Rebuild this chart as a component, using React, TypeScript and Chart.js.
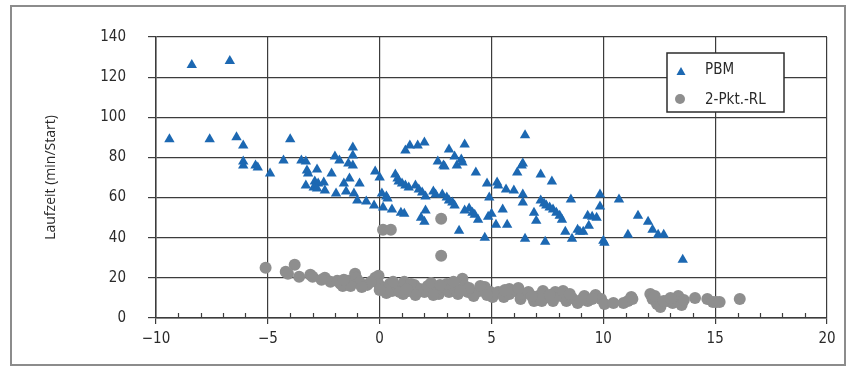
import { useEffect, useRef } from "react";
import { Chart, registerables } from "chart.js";

Chart.register(...registerables);

// ---- data ----
const seriesNames = ["PBM", "2-Pkt.-RL"];
const yAxisTitle = "Laufzeit (min/Start)";
const xRange = [-10, 20];
const yRange = [0, 140];

const pbmX = [
  -9.4, -8.4, -6.7, -7.6, -6.4, -6.1, -6.1, -6.1, -5.55, -5.45, -4.9, -4.0, -4.3, -3.5, -3.3, -3.25, -3.2, -3.3,
  -2.8, -2.9, -2.75, -2.95, -2.8, -2.45, -2.5, -2.15, -2.0, -1.8, -1.95, -1.6, -1.5, -1.4, -1.2, -1.2, -1.2, -1.35,
  -0.9, -1.15, -1.0, -0.6, -0.25, -0.2, 0.0, 0.1, 0.15, 0.3, 0.35, 0.55, 0.7, 0.8, 0.85, 1.0, 1.15, 1.3, 0.95, 1.1,
  1.15, 1.35, 1.7, 2.0, 1.6, 1.75, 1.9, 2.05, 1.85, 2.0, 2.05, 2.4, 2.5, 2.6, 2.85, 2.9, 2.8, 3.0, 3.1, 3.25, 3.35,
  3.1, 3.35, 3.45, 3.65, 3.7, 3.8, 3.55, 3.8, 4.0, 4.15, 4.3, 4.25, 4.4, 4.7, 4.8, 4.9, 4.85, 5.0, 5.25, 5.3, 5.2,
  5.5, 5.65, 6.0, 5.7, 6.15, 6.35, 6.4, 6.5, 6.4, 6.4, 6.5, 6.9, 7.0, 7.2, 7.2, 7.35, 7.45, 7.6, 7.75, 7.9, 8.05,
  8.15, 7.7, 7.4, 8.3, 8.55, 8.6, 8.85, 8.95, 9.1, 9.35, 9.3, 9.5, 9.7, 9.85, 9.85, 10.0, 10.05, 10.7, 11.1, 11.55,
  12.0, 12.2, 12.45, 12.7, 13.55,
];
const pbmY = [
  89, 126, 128, 89, 90, 86, 78, 76, 76, 75, 72, 89, 78.5, 78.5, 78, 73.5, 72, 66,
  74, 68, 67, 65, 64.5, 63.5, 67.5, 72, 80.5, 78.5, 62, 67, 63, 77, 76, 85, 81, 69.5,
  67, 62, 58.5, 58, 56, 73, 70, 62, 55, 60.5, 59.5, 54, 71.5, 69.5, 68, 67, 66, 65, 52.5, 52,
  83.5, 86, 86, 87.5, 66, 64, 62.5, 60.5, 50, 48, 53.5, 63, 61.5, 78, 76, 75.5, 61.5, 60, 58.5, 57.5, 56,
  84, 80.5, 76, 79, 77.5, 86.5, 43.5, 53.5, 54.5, 52.5, 72.5, 51.5, 49, 40, 67, 60, 50.5, 52, 67.5, 66, 46.5,
  54, 64, 63.5, 46.5, 72.5, 76, 77, 91, 61.5, 57.5, 39.5, 52.5, 48.5, 71.5, 58.5, 57, 56, 55, 54, 52.5, 51,
  49, 68, 38, 43, 59, 39.5, 44, 43, 43, 46, 51, 50.5, 50, 61.5, 55.5, 38.5, 37.5, 59, 41.5, 51,
  48, 44, 41.5, 41.5, 29,
];

const rlX = [
  -5.1, -4.2, -3.8, -4.1, -3.6, -3.1, -3.0, -2.45, -2.2, -1.75, -1.65, -1.4, -1.1, -1.05, -0.9, -0.55, -0.2, -0.05,
  -0.05, 0.2, 0.45, 0.3, 0.55, 0.8, 1.05, 1.1, 1.05, 1.3, 1.55, 1.8, 2.0, 2.15, 2.5, 2.65, 2.85, 3.1, 3.35, 3.5,
  3.7, 3.8, 3.95, 4.2, 4.45, 4.7, 4.95, 5.05, 5.3, 5.55, 5.8, 6.05, 6.3, 6.4, 6.65, 6.9, 7.1, 7.25, 7.5, 7.75, 7.85,
  8.1, 8.35, 8.85, 9.15, 9.3, 9.65, 9.9, 10.05, 10.45, 11.1, 11.25, 12.1, 12.2, 12.4, 12.55, 12.85, 13.1, 13.35,
  13.5, 14.1, 14.65, 15.05, 16.1, 0.15, 0.5, 2.75, 2.75,
  0.6, 1.4, 2.3, 3.0, 3.3, 4.0, 4.5, 5.8, 6.2, 7.3, 8.2, 8.6, 9.0, 2.4, 1.6, 0.9, -0.4, -1.3, -2.6, -1.9, 10.9,
  11.3, 12.3, 12.7, 13.0, 13.6, 14.9, 15.2,
  0.0, 1.2, 2.7, 3.6, 4.8, 5.6, 6.8, 7.6, 8.5, 9.5, -0.8, -1.6,
];
const rlY = [
  25, 23, 26.5, 22, 20.5, 21.5, 20.5, 20, 18, 17, 16, 18.5, 22, 20, 18, 16.5, 20, 21,
  17, 15, 17, 12.5, 13.5, 15.5, 16, 18, 12, 13.5, 16.5, 14.5, 13, 16, 14.5, 12, 15.5, 13, 15, 12,
  19.5, 16, 13, 11, 13.5, 15.5, 13, 10.5, 13, 10.5, 12, 13.5, 9.5, 12, 13, 8.5, 11, 8.5, 10.5, 8.5, 13,
  11, 8.5, 7.5, 11, 8.5, 11.5, 9.5, 7, 7.5, 8.5, 10.5, 12, 9.5, 7, 5.5, 8.5, 7.5, 11,
  6.5, 10, 9.5, 8, 9.5, 44, 44, 49.5, 31,
  18, 17, 17.5, 17, 18, 15, 16, 14.5, 15, 13.5, 13.5, 10, 9, 11.5, 11.5, 13, 18, 16, 19, 18.5, 7.5,
  9.5, 11, 8.5, 10, 9, 8, 8,
  14, 14.5, 16.5, 13.5, 11.5, 14, 11, 11.5, 12, 9.5, 15.5, 19,
];

// ---- styles ----
const FONT_FAMILY = "'DejaVu Sans Condensed', 'Liberation Sans Narrow', 'Roboto', sans-serif";
const TITLE_FAMILY = "'Open Sans', 'Noto Sans', sans-serif";
const GRID = "#3c3c3c";
const TEXT = "#2a2a2a";
const BLUE = "#1c68b2";
const GRAY = "#8e8e8e";

const minorTicksPlugin = {
  id: "minorTicks",
  beforeDatasetsDraw(chart: any) {
    const { ctx, chartArea, scales } = chart;
    const x = scales.x;
    ctx.save();
    ctx.strokeStyle = GRID;
    ctx.lineWidth = 1.2;
    for (let v = Math.ceil(x.min); v <= x.max; v++) {
      if (v % 5 === 0) continue;
      const px = Math.round(x.getPixelForValue(v)) + 0.5;
      ctx.beginPath();
      ctx.moveTo(px, chartArea.bottom);
      ctx.lineTo(px, chartArea.bottom - 5);
      ctx.stroke();
    }
    ctx.restore();
  },
};

const boxLegendPlugin = {
  id: "boxLegend",
  afterDraw(chart: any) {
    const { ctx, chartArea } = chart;
    const left = chartArea.right - 160;
    const top = chartArea.top + 16;
    const w = 117;
    const h = 59;
    ctx.save();
    ctx.fillStyle = "#ffffff";
    ctx.fillRect(left, top, w, h);
    ctx.strokeStyle = "#2c2c2c";
    ctx.lineWidth = 1.5;
    ctx.strokeRect(left, top, w, h);
    // triangle
    const tx = left + 14;
    const ty = top + 19;
    ctx.fillStyle = BLUE;
    ctx.beginPath();
    ctx.moveTo(tx, ty - 5);
    ctx.lineTo(tx + 4.5, ty + 3);
    ctx.lineTo(tx - 4.5, ty + 3);
    ctx.closePath();
    ctx.fill();
    // circle
    ctx.fillStyle = GRAY;
    ctx.beginPath();
    ctx.arc(left + 13, top + 46, 5, 0, Math.PI * 2);
    ctx.fill();
    ctx.fillStyle = TEXT;
    ctx.font = `15px ${FONT_FAMILY}`;
    ctx.textBaseline = "middle";
    ctx.textAlign = "left";
    ctx.fillText(seriesNames[0], left + 38, top + 17);
    ctx.fillText(seriesNames[1], left + 38, top + 47);
    ctx.restore();
  },
};

export default function App() {
  const canvasRef = useRef<HTMLCanvasElement | null>(null);

  useEffect(() => {
    const canvas = canvasRef.current;
    if (!canvas) return;
    const chart = new Chart(canvas, {
      type: "scatter",
      data: {
        datasets: [
          {
            label: seriesNames[0],
            data: pbmX.map((x, i) => ({ x, y: pbmY[i] })),
            pointStyle: "triangle",
            pointRadius: 6,
            pointHoverRadius: 6,
            backgroundColor: BLUE,
            borderColor: BLUE,
            borderWidth: 0,
          },
          {
            label: seriesNames[1],
            data: rlX.map((x, i) => ({ x, y: rlY[i] })),
            pointStyle: "circle",
            pointRadius: 6,
            pointHoverRadius: 6,
            backgroundColor: GRAY,
            borderColor: GRAY,
            borderWidth: 0,
          },
        ],
      },
      options: {
        responsive: false,
        animation: false,
        devicePixelRatio: 1,
        layout: { padding: { left: 40, right: 27, top: 37, bottom: 26 } },
        plugins: {
          legend: { display: false },
          tooltip: { enabled: false },
        },
        scales: {
          x: {
            type: "linear",
            min: xRange[0],
            max: xRange[1],
            afterFit: (s: any) => {
              s.height = 30;
            },
            ticks: {
              stepSize: 5,
              color: TEXT,
              padding: 6,
              font: { family: FONT_FAMILY, size: 15 },
              callback: (v: any) => (Number(v) < 0 ? "\u2212" + Math.abs(Number(v)) : String(v)),
            },
            grid: { color: GRID, lineWidth: 1.2, tickLength: 6, tickColor: GRID },
            border: { color: GRID, width: 1.5 },
          },
          y: {
            type: "linear",
            min: yRange[0],
            max: yRange[1],
            afterFit: (s: any) => {
              s.width = 116;
            },
            ticks: {
              stepSize: 20,
              color: TEXT,
              padding: 22,
              font: { family: FONT_FAMILY, size: 15 },
            },
            grid: { color: GRID, lineWidth: 1.2, tickLength: 8, tickColor: GRID },
            border: { color: GRID, width: 1.5 },
            title: {
              display: true,
              text: yAxisTitle,
              color: TEXT,
              font: { family: TITLE_FAMILY, size: 14 },
              padding: { top: 3, bottom: 4 },
            },
          },
        },
      },
      plugins: [minorTicksPlugin, boxLegendPlugin],
    } as any);
    return () => chart.destroy();
  }, []);

  return (
    <div
      style={{
        position: "absolute",
        left: 0,
        top: 0,
        width: 854,
        height: 374,
        background: "#ffffff",
        overflow: "hidden",
      }}
    >
      <canvas ref={canvasRef} width={854} height={374} style={{ display: "block" }} />
      <div
        style={{
          position: "absolute",
          left: 10,
          top: 5,
          width: 836,
          height: 361,
          boxSizing: "border-box",
          border: "2px solid #8c8c8c",
          pointerEvents: "none",
        }}
      />
    </div>
  );
}
